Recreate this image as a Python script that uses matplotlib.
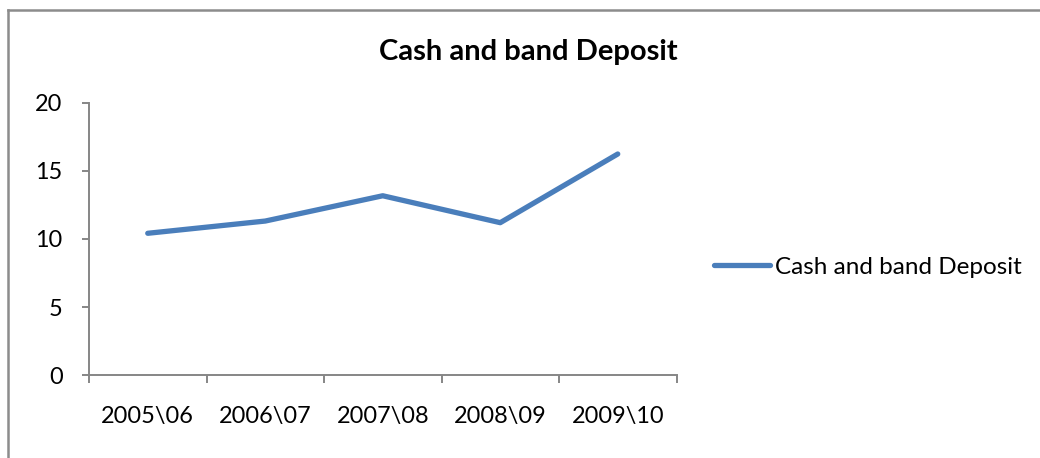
import matplotlib
matplotlib.use("Agg")
import matplotlib.pyplot as plt
from matplotlib.lines import Line2D

categories = ["2005\\06", "2006\\07", "2007\\08", "2008\\09", "2009\\10"]
values = [10.42, 11.32, 13.18, 11.2, 16.25]
series_name = "Cash and band Deposit"
title = "Cash and band Deposit"
yticks = [0, 5, 10, 15, 20]

plt.rcParams['font.family'] = ['Lato', 'DejaVu Sans']

W, H = 1040, 458
fig = plt.figure(figsize=(W / 100, H / 100), dpi=100)
ax = fig.add_axes([89 / W, 1 - 375 / H, (676.5 - 89) / W, (375 - 103) / H])

x = list(range(len(categories)))
line, = ax.plot(x, values, color="#4A7EBB", linewidth=3.8,
                solid_capstyle="round", solid_joinstyle="round",
                label=series_name)

ax.set_xlim(-0.5, len(categories) - 0.5)
ax.set_ylim(0, 20)
ax.set_yticks(yticks)
ax.set_yticklabels([str(v) for v in yticks])
ax.set_xticks(x)
ax.set_xticklabels(categories)
ax.set_xticks([i - 0.5 for i in range(len(categories) + 1)], minor=True)

grey = "#868686"
for s in ["top", "right"]:
    ax.spines[s].set_visible(False)
for s in ["left", "bottom"]:
    ax.spines[s].set_color(grey)
    ax.spines[s].set_linewidth(1.4)

ax.tick_params(axis="x", which="major", length=0, pad=22, labelsize=16.9,
               labelcolor="black")
ax.tick_params(axis="x", which="minor", length=6, width=1.4, color=grey,
               direction="out")
ax.tick_params(axis="y", length=5, width=1.4, color=grey, pad=14,
               labelsize=16.9, labelcolor="black")

fig.text(528 / W, 1 - 52 / H, title, ha="center", va="center",
         fontsize=21, fontweight="bold")

ax.legend(handles=[line], loc="center left",
          bbox_to_anchor=(714 / W, 1 - 267 / H),
          bbox_transform=fig.transFigure, frameon=False,
          fontsize=17.5, handlelength=2.3, handletextpad=0.2,
          borderpad=0, borderaxespad=0)

# outer chart border (left and top)
fig.add_artist(Line2D([8 / W, 8 / W], [0, 1 - 10 / H], transform=fig.transFigure,
                      color="#8c8c8c", linewidth=1.8))
fig.add_artist(Line2D([8 / W, 1], [1 - 10 / H, 1 - 10 / H], transform=fig.transFigure,
                      color="#8c8c8c", linewidth=1.8))

fig.savefig("out.png", dpi=100)
